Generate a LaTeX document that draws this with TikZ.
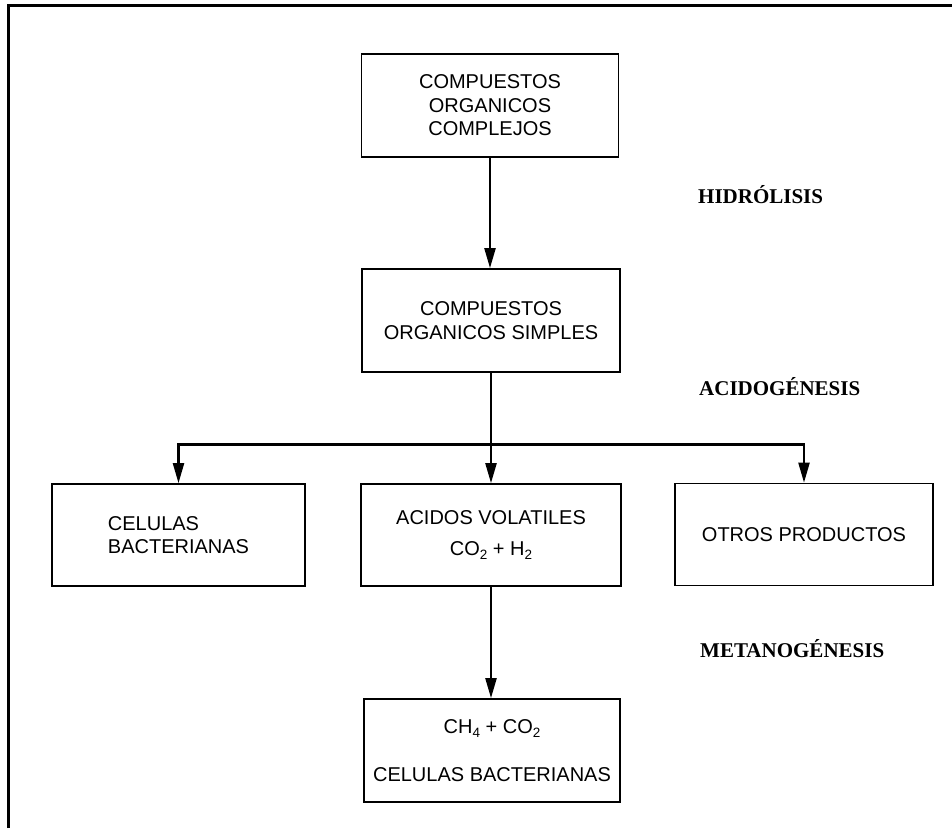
\documentclass[tikz,border=0pt]{standalone}
\usepackage{fontspec}
\setmainfont{Liberation Sans}
\newfontfamily\labfont{Liberation Serif}
\usetikzlibrary{arrows.meta}
\newcommand\sbs[1]{\raisebox{-0.4ex}{\fontsize{13.5}{13.5}\selectfont #1}}
\tikzset{
  box/.style={draw, line width=1.7pt, minimum width=#1, minimum height=103pt, inner sep=0pt,
    align=center, font=\fontsize{20}{23.5}\selectfont},
  box/.default=257pt,
  conn/.style={line width=2.2pt},
  arr/.style={conn, -{Triangle[length=20pt,width=11pt]}},
  phase/.style={anchor=west, inner sep=0pt, font=\labfont\bfseries\fontsize{21}{21}\selectfont},
  frameline/.style={line width=2.5pt}
}
\begin{document}
\begin{tikzpicture}[x=1pt,y=-1pt]
\useasboundingbox (0,0) rectangle (952,828);
\draw[frameline] (8.5,828) -- (8.5,5.5) -- (952,5.5);

\node[box] (b1) at (490,105.5) {COMPUESTOS\\ORGANICOS\\COMPLEJOS};
\node[box=258pt] (b2) at (491,320.5) {COMPUESTOS\\ORGANICOS SIMPLES};
\node[box=253pt, minimum height=102pt, align=left] (cl) at (178.5,535) {CELULAS\\BACTERIANAS};
\node[box=260pt, minimum height=102pt] (cm) at (491,535) {ACIDOS VOLATILES\\[8pt]CO\sbs{2} + H\sbs{2}};
\node[box=258pt, minimum height=102pt] (cr) at (804,534.5) {OTROS PRODUCTOS};
\node[box=256pt] (b3) at (492,750.5) {CH\sbs{4} + CO\sbs{2}\\[24pt]CELULAS BACTERIANAS};

\node[phase] (p1) at (698,195) {HIDRÓLISIS};
\node[phase] (p2) at (699,387) {ACIDOGÉNESIS};
\node[phase] (p3) at (700,649) {METANOGÉNESIS};

\coordinate (j) at (491,444.5);
\draw[arr] (b1.south) -- (b1.south |- b2.north);
\draw[arr] (b2.south) -- (cm.north);
\draw[arr] (j) -| (cl.north);
\draw[arr] (j) -| (cr.north);
\draw[arr] (cm.south) -- (cm.south |- b3.north);
\end{tikzpicture}
\end{document}
